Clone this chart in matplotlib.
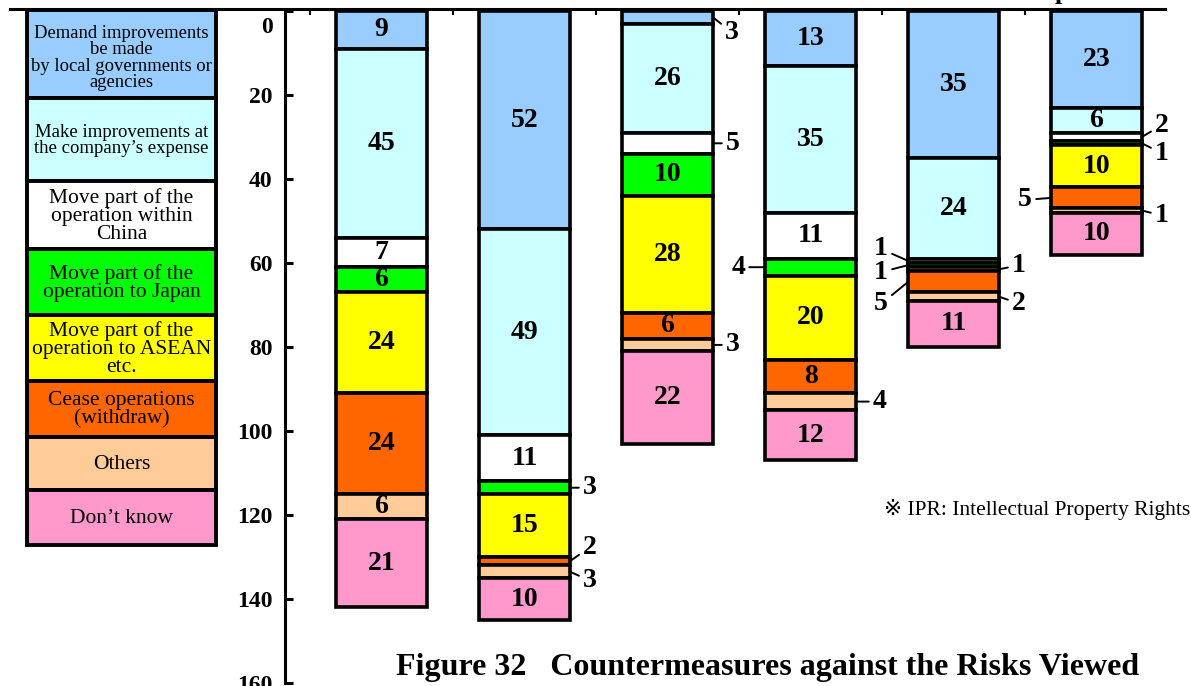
import matplotlib
matplotlib.use("Agg")
import matplotlib.pyplot as plt
from matplotlib.patches import Rectangle
from matplotlib.lines import Line2D

plt.rcParams["font.family"] = ["Liberation Serif", "DejaVu Serif", "DejaVu Sans"]

# ---- data -------------------------------------------------------------
series_names = [
    "Demand improvements\nbe made\nby local governments or\nagencies",
    "Make improvements at\nthe company\u2019s expense",
    "Move part of the\noperation within\nChina",
    "Move part of the\noperation to Japan",
    "Move part of the\noperation to ASEAN\netc.",
    "Cease operations\n(withdraw)",
    "Others",
    "Don\u2019t know",
]
series_colors = ["#99CCFF", "#CCFFFF", "#FFFFFF", "#00FF00",
                 "#FFFF00", "#FF6600", "#FFCC99", "#FF99CC"]

demand_local = [9, 52, 3, 13, 35, 23]
own_expense = [45, 49, 26, 35, 24, 6]
within_china = [7, 11, 5, 11, 1, 2]
to_japan = [6, 3, 10, 4, 1, 1]
to_asean = [24, 15, 28, 20, 1, 10]
cease_ops = [24, 2, 6, 8, 5, 5]
others = [6, 3, 3, 4, 2, 1]
dont_know = [21, 10, 22, 12, 11, 10]
series_values = [demand_local, own_expense, within_china, to_japan,
                 to_asean, cease_ops, others, dont_know]

top_labels = ["contraction", "", "", "", "", "policies"]
y_ticks = [0, 20, 40, 60, 80, 100, 120, 140, 160]

# small segments labelled outside the bar: (bar, series) -> offset in px
callouts = {
    (1, 3): (20, 0), (1, 5): (20, -14), (1, 6): (20, 9),
    (2, 0): (19, 15), (2, 2): (20, 0), (2, 6): (20, 0),
    (3, 3): (-27, 0), (3, 6): (24, 0),
    (4, 2): (-27, -12), (4, 3): (-27, 7), (4, 4): (20, -4),
    (4, 5): (-27, 22), (4, 6): (20, 7),
    (5, 2): (20, -12), (5, 3): (20, 10), (5, 5): (-26, 2), (5, 6): (20, 5),
}

# ---- figure -----------------------------------------------------------
W, H = 1191, 686
fig = plt.figure(figsize=(W / 100, H / 100), dpi=100)

# overlay in pixel coordinates for legend, frame line and notes
ov = fig.add_axes([0, 0, 1, 1], zorder=0)
ov.set_xlim(0, W)
ov.set_ylim(H, 0)
ov.axis("off")

ax = fig.add_axes([285 / W, 3 / H, (1168 - 285) / W, (683 - 11) / H], zorder=1)
ax.set_facecolor("none")

n = len(demand_local)
xs = list(range(n))
bar_w = 0.635
lw_bar = 2.6
val_size = 20

bottoms = [0] * n
for s, (vals, col) in enumerate(zip(series_values, series_colors)):
    ax.bar(xs, vals, bottom=bottoms, width=bar_w, color=col,
           edgecolor="black", linewidth=lw_bar, clip_on=False, zorder=2)
    for i, v in enumerate(vals):
        mid = bottoms[i] + v / 2
        if v >= 6:
            ax.text(i, mid, str(v), ha="center", va="center",
                    fontsize=val_size, fontweight="bold", zorder=3)
        elif (i, s) in callouts:
            dx, dy = callouts[(i, s)]
            edge = i + (bar_w / 2 if dx > 0 else -bar_w / 2)
            ax.annotate(str(v), xy=(edge, mid),
                        xytext=(dx * 0.72, -dy * 0.72),
                        textcoords="offset points", ha="center", va="center",
                        fontsize=val_size, fontweight="bold",
                        arrowprops=dict(arrowstyle="-", color="black",
                                        lw=1.4, shrinkA=1, shrinkB=0),
                        annotation_clip=False, zorder=3)
    bottoms = [b + v for b, v in zip(bottoms, vals)]

ax.set_xlim(-0.675, 5.5)
ax.set_ylim(160, 0)

for side in ["top", "right", "bottom"]:
    ax.spines[side].set_visible(False)
ax.spines["left"].set_linewidth(2.2)

ax.set_yticks(y_ticks)
ax.set_yticklabels([""] + [str(t) for t in y_ticks[1:]])
ax.tick_params(axis="y", direction="in", length=6, width=2.2, pad=9,
               labelsize=17)
for lab in ax.get_yticklabels():
    lab.set_fontweight("bold")
ax.annotate("0", xy=(0, 0), xycoords=("axes fraction", "data"),
            xytext=(-9, -12), textcoords="offset points",
            ha="right", va="center", fontsize=17, fontweight="bold")

# category boundary ticks along the top
ax.set_xticks([k - 0.5 for k in range(n)])
ax.tick_params(axis="x", bottom=False, top=True, labelbottom=False,
               direction="in", length=3, width=1.5)

# category captions (only their last line shows under the top edge)
for i, t in enumerate(top_labels):
    if t:
        ax.annotate(t, xy=(i, 0), xycoords="data", xytext=(0, 9),
                    textcoords="offset points", ha="center", va="baseline",
                    fontsize=19, fontweight="bold", annotation_clip=False)

# frame line across the top
ov.add_line(Line2D([10, 1165], [8.5, 8.5], color="black", lw=2.2))

# legend column
leg_bounds = [10, 98, 181, 249, 315, 381, 437, 490, 545]
leg_sizes = [13.4, 13.5, 15.5, 15.5, 15.5, 15.5, 15.5, 15.5]
leg_spacing = [0.94, 0.96, 0.9, 0.98, 0.96, 0.98, 0.96, 0.96]
leg_shift = [4, 1, 1, 1, 1, 1, 1, 1]
for k, (name, col) in enumerate(zip(series_names, series_colors)):
    y0, y1 = leg_bounds[k], leg_bounds[k + 1]
    ov.add_patch(Rectangle((27, y0), 189, y1 - y0, facecolor=col,
                           edgecolor="black", linewidth=2.8))
    ov.text(121.5, (y0 + y1) / 2 + leg_shift[k], name, ha="center",
            va="center", fontsize=leg_sizes[k], linespacing=leg_spacing[k])

ov.text(1190, 510, "\u203b IPR: Intellectual Property Rights",
        ha="right", va="center", fontsize=15.5)

fig.text(768 / W, 1 - 668 / H,
         "Figure 32   Countermeasures against the Risks Viewed",
         ha="center", va="center", fontsize=23, fontweight="bold")

fig.savefig("out.png", dpi=100)
